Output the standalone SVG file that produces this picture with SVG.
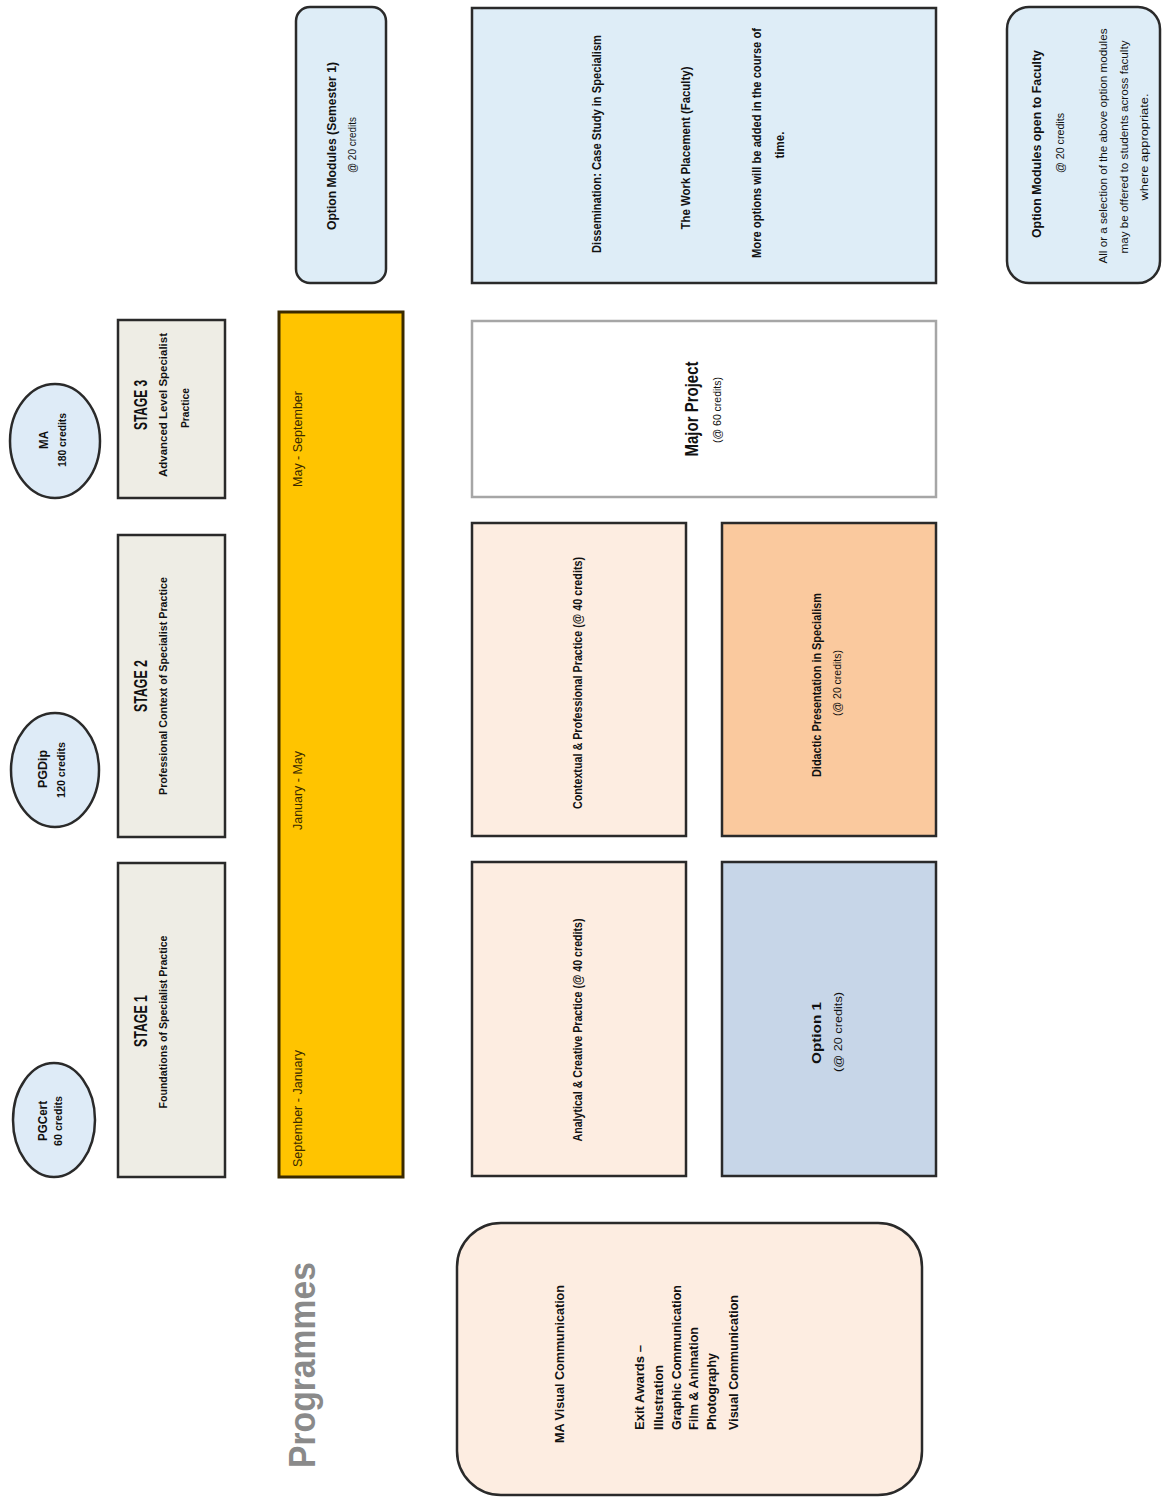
<svg xmlns="http://www.w3.org/2000/svg" width="1162" height="1499" viewBox="0 0 1162 1499">
<style>
.bx{stroke:#2a2a2a;stroke-width:2.5}
.ell{fill:#deebf7;stroke:#2a2a2a;stroke-width:2.5}
.stage{fill:#eeede5}
.blue{fill:#deedf7}
.peach{fill:#fdede1}
.t{font-family:"Liberation Sans",Arial,sans-serif;fill:#111;text-anchor:middle}
.b{font-weight:bold}
.s{text-anchor:start}
.yl{fill:#3a2a00}
</style>
<rect width="1162" height="1499" fill="#ffffff"/>
<g id="connectors"/>

<g id="pgcert">
<ellipse class="ell" cx="54" cy="1120" rx="41" ry="57"/>
<text class="t b" font-size="12" textLength="40" lengthAdjust="spacingAndGlyphs" transform="translate(47,1121) rotate(-90)">PGCert</text>
<text class="t b" font-size="11" textLength="50" lengthAdjust="spacingAndGlyphs" transform="translate(62,1121) rotate(-90)">60 credits</text>
</g>
<g id="pgdip">
<ellipse class="ell" cx="55" cy="770" rx="44" ry="57"/>
<text class="t b" font-size="12" textLength="38" lengthAdjust="spacingAndGlyphs" transform="translate(47,769) rotate(-90)">PGDip</text>
<text class="t b" font-size="11" textLength="56" lengthAdjust="spacingAndGlyphs" transform="translate(65,770) rotate(-90)">120 credits</text>
</g>
<g id="ma">
<ellipse class="ell" cx="55" cy="441" rx="45" ry="57"/>
<text class="t b" font-size="12" textLength="18" lengthAdjust="spacingAndGlyphs" transform="translate(48,440) rotate(-90)">MA</text>
<text class="t b" font-size="11" textLength="54" lengthAdjust="spacingAndGlyphs" transform="translate(66,440) rotate(-90)">180 credits</text>
</g>

<g id="stage1">
<rect class="bx stage" x="118" y="863" width="107" height="314"/>
<text class="t b" font-size="18" textLength="52" lengthAdjust="spacingAndGlyphs" transform="translate(147,1021) rotate(-90)">STAGE 1</text>
<text class="t b" font-size="11.5" textLength="173" lengthAdjust="spacingAndGlyphs" transform="translate(167,1022) rotate(-90)">Foundations of Specialist Practice</text>
</g>
<g id="stage2">
<rect class="bx stage" x="118" y="535" width="107" height="302"/>
<text class="t b" font-size="18" textLength="52" lengthAdjust="spacingAndGlyphs" transform="translate(147,686) rotate(-90)">STAGE 2</text>
<text class="t b" font-size="11.5" textLength="218" lengthAdjust="spacingAndGlyphs" transform="translate(167,686) rotate(-90)">Professional Context of Specialist Practice</text>
</g>
<g id="stage3">
<rect class="bx stage" x="118" y="320" width="107" height="178"/>
<text class="t b" font-size="18" textLength="50" lengthAdjust="spacingAndGlyphs" transform="translate(147,405) rotate(-90)">STAGE 3</text>
<text class="t b" font-size="11.5" textLength="144" lengthAdjust="spacingAndGlyphs" transform="translate(167,405) rotate(-90)">Advanced Level Specialist</text>
<text class="t b" font-size="11.5" textLength="40" lengthAdjust="spacingAndGlyphs" transform="translate(189,408) rotate(-90)">Practice</text>
</g>

<g id="timeline">
<rect x="279" y="312" width="124" height="865" fill="#ffc400" stroke="#3a2a00" stroke-width="3"/>
<text class="t s yl" font-size="12" textLength="117" lengthAdjust="spacingAndGlyphs" transform="translate(302,1167) rotate(-90)">September - January</text>
<text class="t s yl" font-size="12" textLength="79" lengthAdjust="spacingAndGlyphs" transform="translate(302,830) rotate(-90)">January - May</text>
<text class="t s yl" font-size="12" textLength="96" lengthAdjust="spacingAndGlyphs" transform="translate(302,487) rotate(-90)">May - September</text>
</g>

<g id="option-sem1">
<rect class="bx blue" x="296" y="7" width="90" height="276" rx="14"/>
<text class="t b" font-size="13" textLength="168" lengthAdjust="spacingAndGlyphs" transform="translate(336,146) rotate(-90)">Option Modules (Semester 1)</text>
<text class="t" font-size="11" textLength="56" lengthAdjust="spacingAndGlyphs" transform="translate(356,145) rotate(-90)">@ 20 credits</text>
</g>

<g id="dissemination">
<rect class="bx blue" x="472" y="8" width="464" height="275"/>
<text class="t b" font-size="12" textLength="218" lengthAdjust="spacingAndGlyphs" transform="translate(601,144) rotate(-90)">Dissemination: Case Study in Specialism</text>
<text class="t b" font-size="12" textLength="163" lengthAdjust="spacingAndGlyphs" transform="translate(690,148) rotate(-90)">The Work Placement (Faculty)</text>
<text class="t b" font-size="12" textLength="230" lengthAdjust="spacingAndGlyphs" transform="translate(761,143) rotate(-90)">More options will be added in the course of</text>
<text class="t b" font-size="12" textLength="27" lengthAdjust="spacingAndGlyphs" transform="translate(784,145) rotate(-90)">time.</text>
</g>

<g id="option-faculty">
<rect class="bx blue" x="1007" y="7" width="153" height="276" rx="22"/>
<text class="t b" font-size="13" textLength="188" lengthAdjust="spacingAndGlyphs" transform="translate(1041,144) rotate(-90)">Option Modules open to Faculty</text>
<text class="t" font-size="11" textLength="60" lengthAdjust="spacingAndGlyphs" transform="translate(1064,143) rotate(-90)">@ 20 credits</text>
<text class="t" font-size="11" textLength="235" lengthAdjust="spacingAndGlyphs" transform="translate(1107,146) rotate(-90)">All or a selection of the above option modules</text>
<text class="t" font-size="11" textLength="213" lengthAdjust="spacingAndGlyphs" transform="translate(1128,147) rotate(-90)">may be offered to students across faculty</text>
<text class="t" font-size="11" textLength="107" lengthAdjust="spacingAndGlyphs" transform="translate(1148,147) rotate(-90)">where appropriate.</text>
</g>

<g id="major-project">
<rect x="472" y="321" width="464" height="176" fill="#ffffff" stroke="#a6a6a6" stroke-width="2.5"/>
<text class="t b" font-size="18" textLength="95" lengthAdjust="spacingAndGlyphs" transform="translate(698,409) rotate(-90)">Major Project</text>
<text class="t" font-size="11" textLength="66" lengthAdjust="spacingAndGlyphs" transform="translate(721,410) rotate(-90)">(@ 60 credits)</text>
</g>

<g id="contextual">
<rect class="bx peach" x="472" y="523" width="214" height="313"/>
<text class="t b" font-size="12" textLength="252" lengthAdjust="spacingAndGlyphs" transform="translate(582,683) rotate(-90)">Contextual &amp; Professional Practice (@ 40 credits)</text>
</g>
<g id="didactic">
<rect class="bx" x="722" y="523" width="214" height="313" fill="#fac99e"/>
<text class="t b" font-size="12" textLength="184" lengthAdjust="spacingAndGlyphs" transform="translate(821,685) rotate(-90)">Didactic Presentation in Specialism</text>
<text class="t" font-size="11" textLength="66" lengthAdjust="spacingAndGlyphs" transform="translate(841,683) rotate(-90)">(@ 20 credits)</text>
</g>
<g id="analytical">
<rect class="bx peach" x="472" y="862" width="214" height="314"/>
<text class="t b" font-size="12" textLength="223" lengthAdjust="spacingAndGlyphs" transform="translate(582,1030) rotate(-90)">Analytical &amp; Creative Practice (@ 40 credits)</text>
</g>
<g id="option1">
<rect class="bx" x="722" y="862" width="214" height="314" fill="#c7d6e8"/>
<text class="t b" font-size="12" textLength="62" lengthAdjust="spacingAndGlyphs" transform="translate(821,1033) rotate(-90)">Option 1</text>
<text class="t" font-size="11" textLength="80" lengthAdjust="spacingAndGlyphs" transform="translate(842,1032) rotate(-90)">(@ 20 credits)</text>
</g>

<g id="programmes-title">
<text class="t b" font-size="37" style="fill:#8a8a8a" textLength="206" lengthAdjust="spacingAndGlyphs" transform="translate(315,1365) rotate(-90)">Programmes</text>
</g>
<g id="programmes">
<rect class="bx peach" x="457" y="1223" width="465" height="272" rx="44"/>
<text class="t b s" font-size="13" textLength="158" lengthAdjust="spacingAndGlyphs" transform="translate(564,1443) rotate(-90)">MA Visual Communication</text>
<text class="t b s" font-size="13" textLength="85" lengthAdjust="spacingAndGlyphs" transform="translate(644,1430) rotate(-90)">Exit Awards –</text>
<text class="t b s" font-size="13" textLength="65" lengthAdjust="spacingAndGlyphs" transform="translate(663,1430) rotate(-90)">Illustration</text>
<text class="t b s" font-size="13" textLength="145" lengthAdjust="spacingAndGlyphs" transform="translate(681,1430) rotate(-90)">Graphic Communication</text>
<text class="t b s" font-size="13" textLength="103" lengthAdjust="spacingAndGlyphs" transform="translate(698,1430) rotate(-90)">Film &amp; Animation</text>
<text class="t b s" font-size="13" textLength="77" lengthAdjust="spacingAndGlyphs" transform="translate(716,1430) rotate(-90)">Photography</text>
<text class="t b s" font-size="13" textLength="135" lengthAdjust="spacingAndGlyphs" transform="translate(738,1430) rotate(-90)">Visual Communication</text>
</g>
</svg>
